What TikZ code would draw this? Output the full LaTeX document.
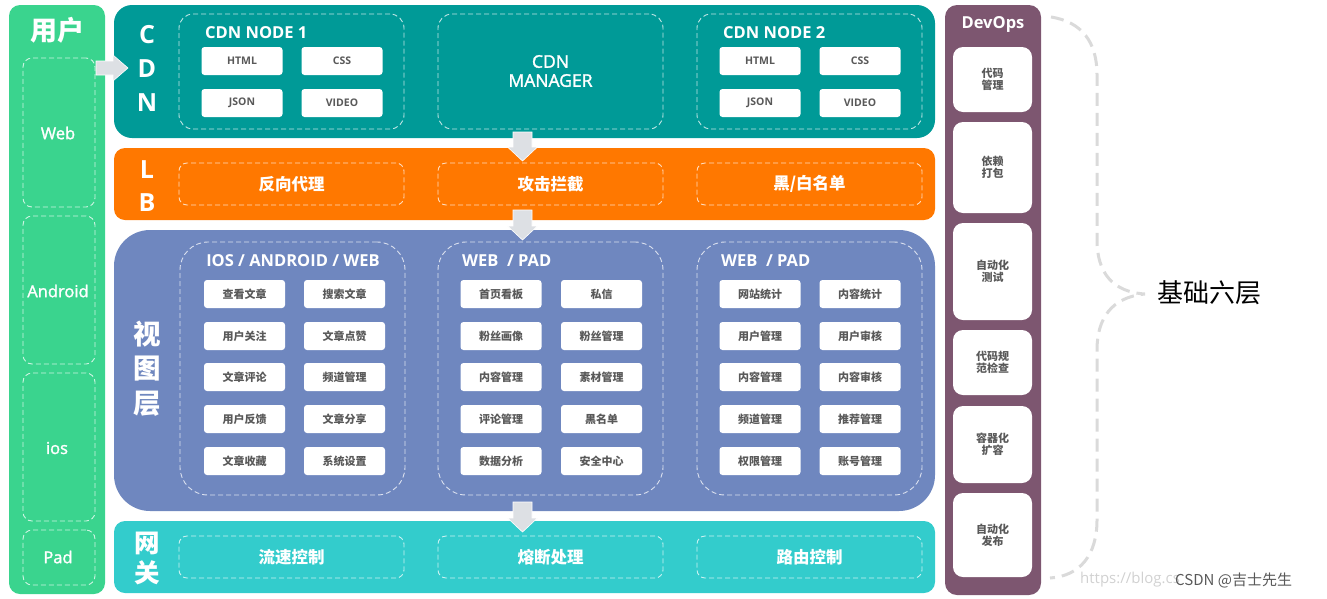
\documentclass[tikz,border=0pt]{standalone}
\usepackage{fontspec}
\setmainfont{Open Sans}
\newfontfamily\cjk{Noto Sans CJK SC}
\newfontfamily\lat{Open Sans}
\newfontfamily\latm{Open Sans}[FakeBold=1.6]
\definecolor{cUser}{HTML}{3AD48E}
\definecolor{cCdn}{HTML}{009A97}
\definecolor{cLb}{HTML}{FF7800}
\definecolor{cView}{HTML}{6F87BF}
\definecolor{cGw}{HTML}{33CCCC}
\definecolor{cDev}{HTML}{7D5670}
\definecolor{cArrow}{HTML}{DDE0E4}
\definecolor{cItem}{HTML}{595959}
\definecolor{cBrace}{HTML}{DADADA}
\tikzset{
  panel/.style={inner sep=0pt, draw=none},
  dbox/.style={draw=white, draw opacity=0.75, dash pattern=on 5pt off 3pt, line width=0.9pt, inner sep=0pt, fill=none},
  item/.style={fill=white, rounded corners=3pt, inner sep=0pt, minimum width=81pt, minimum height=28pt, text=cItem, font=\cjk\bfseries\fontsize{11}{13}\selectfont},
  litem/.style={item, font=\lat\bfseries\fontsize{10.5}{12}\selectfont},
  devbox/.style={fill=white, rounded corners=10pt, inner sep=0pt, minimum width=79pt, text=cItem, align=center, font=\cjk\bfseries\fontsize{11}{12}\selectfont},
  vlet/.style={text=white, font=\lat\bfseries\fontsize{25}{25}\selectfont, inner sep=0pt},
  vcjk/.style={text=white, font=\cjk\bfseries\fontsize{27.5}{28}\selectfont, inner sep=0pt},
  wlabel/.style={text=white, font=\cjk\bfseries\fontsize{16.5}{18}\selectfont, inner sep=0pt},
  gtitle/.style={text=white, font=\lat\bfseries\fontsize{16.5}{18}\selectfont, inner sep=0pt},
  ulabel/.style={text=white, font=\latm\fontsize{16.5}{18}\selectfont, inner sep=0pt},
  barrow/.style={fill=cArrow, draw=white, line width=0.6pt, line join=miter},
}
\begin{document}
\begin{tikzpicture}[x=1pt,y=-1pt]
\useasboundingbox (0,0) rectangle (1327,598);

% ---------------- user column ----------------
\node[panel, fill=cUser, minimum width=96pt, minimum height=589pt, rounded corners=11pt] (user) at (57,299.5) {};
\node[text=white, font=\cjk\bfseries\fontsize{27}{27}\selectfont, inner sep=0pt] (usertitle) at (57,30) {用户};
\node[dbox, rounded corners=9pt, minimum width=72pt, minimum height=149pt] (web) at (59,132.5) {};
\node[dbox, rounded corners=9pt, minimum width=72pt, minimum height=148pt] (android) at (59,290) {};
\node[dbox, rounded corners=9pt, minimum width=72pt, minimum height=148pt] (ios) at (59,447) {};
\node[dbox, rounded corners=9pt, minimum width=72pt, minimum height=55pt] (pad) at (59,557.5) {};
\node[ulabel] (webt) at (58,133) {Web};
\node[ulabel] (andt) at (58,291) {Android};
\node[ulabel] (iost) at (57,448) {ios};
\node[ulabel] (padt) at (58,557) {Pad};

% ---------------- CDN ----------------
\node[panel, fill=cCdn, minimum width=821pt, minimum height=133pt, rounded corners=18pt] (cdn) at (524.5,71.5) {};
\node[vlet] (cC) at (147,35) {C};
\node[vlet] (cD) at (147,69) {D};
\node[vlet] (cN) at (147,103) {N};
\node[dbox, rounded corners=14pt, minimum width=225pt, minimum height=115pt] (node1) at (291.5,71.5) {};
\node[gtitle, anchor=west] (node1t) at (205,33) {CDN NODE 1};
\node[litem] (n1a) at (242,61) {HTML};
\node[litem] (n1b) at (342,61) {CSS};
\node[litem] (n1c) at (242,103) {JSON};
\node[litem] (n1d) at (342,103) {VIDEO};
\node[dbox, rounded corners=14pt, minimum width=225pt, minimum height=115pt] (mgr) at (550.5,71.5) {};
\node[text=white, font=\latm\fontsize{17.5}{19}\selectfont, align=center, inner sep=0pt] (mgrt) at (550.5,71) {CDN\\MANAGER};
\node[dbox, rounded corners=14pt, minimum width=225pt, minimum height=115pt] (node2) at (809.5,71.5) {};
\node[gtitle, anchor=west] (node2t) at (723,33) {CDN NODE 2};
\node[litem] (n2a) at (760,61) {HTML};
\node[litem] (n2b) at (860,61) {CSS};
\node[litem] (n2c) at (760,103) {JSON};
\node[litem] (n2d) at (860,103) {VIDEO};

% ---------------- LB ----------------
\node[panel, fill=cLb, minimum width=821pt, minimum height=72pt, rounded corners=11pt] (lb) at (524.5,184) {};
\node[vlet] (lL) at (147,170) {L};
\node[vlet] (lB) at (147,203) {B};
\node[dbox, rounded corners=8pt, minimum width=225pt, minimum height=42pt] (lb1) at (291.5,184) {};
\node[dbox, rounded corners=8pt, minimum width=225pt, minimum height=42pt] (lb2) at (550.5,184) {};
\node[dbox, rounded corners=8pt, minimum width=225pt, minimum height=42pt] (lb3) at (809.5,184) {};
\node[wlabel] at (lb1) {反向代理};
\node[wlabel] at (lb2) {攻击拦截};
\node[wlabel] at (lb3) {黑/白名单};

% ---------------- View layer ----------------
\node[panel, fill=cView, minimum width=821pt, minimum height=281pt, rounded corners=36pt] (view) at (524.5,370.5) {};
\node[vcjk] (v1) at (147,334) {视};
\node[vcjk] (v2) at (147,369) {图};
\node[vcjk] (v3) at (147,404) {层};
\node[dbox, rounded corners=28pt, minimum width=225pt, minimum height=253pt] (g1) at (292.5,368.5) {};
\node[dbox, rounded corners=28pt, minimum width=225pt, minimum height=253pt] (g2) at (550.5,368.5) {};
\node[dbox, rounded corners=28pt, minimum width=225pt, minimum height=253pt] (g3) at (809.5,368.5) {};
\node[gtitle] (g1t) at (293,261) {IOS / ANDROID / WEB};
\node[gtitle, anchor=west] (g2t) at (462,261) {WEB~~/ PAD};
\node[gtitle, anchor=west] (g3t) at (721,261) {WEB~~/ PAD};
% group 1
\node[item] (a11) at (244.5,294) {查看文章};
\node[item] (a12) at (344.5,294) {搜索文章};
\node[item] (a21) at (244.5,336) {用户关注};
\node[item] (a22) at (344.5,336) {文章点赞};
\node[item] (a31) at (244.5,377) {文章评论};
\node[item] (a32) at (344.5,377) {频道管理};
\node[item] (a41) at (244.5,419) {用户反馈};
\node[item] (a42) at (344.5,419) {文章分享};
\node[item] (a51) at (244.5,461) {文章收藏};
\node[item] (a52) at (344.5,461) {系统设置};
% group 2
\node[item] (b11) at (501,294) {首页看板};
\node[item] (b12) at (601.5,294) {私信};
\node[item] (b21) at (501,336) {粉丝画像};
\node[item] (b22) at (601.5,336) {粉丝管理};
\node[item] (b31) at (501,377) {内容管理};
\node[item] (b32) at (601.5,377) {素材管理};
\node[item] (b41) at (501,419) {评论管理};
\node[item] (b42) at (601.5,419) {黑名单};
\node[item] (b51) at (501,461) {数据分析};
\node[item] (b52) at (601.5,461) {安全中心};
% group 3
\node[item] (c11) at (760,294) {网站统计};
\node[item] (c12) at (860,294) {内容统计};
\node[item] (c21) at (760,336) {用户管理};
\node[item] (c22) at (860,336) {用户审核};
\node[item] (c31) at (760,377) {内容管理};
\node[item] (c32) at (860,377) {内容审核};
\node[item] (c41) at (760,419) {频道管理};
\node[item] (c42) at (860,419) {推荐管理};
\node[item] (c51) at (760,461) {权限管理};
\node[item] (c52) at (860,461) {账号管理};

% ---------------- Gateway ----------------
\node[panel, fill=cGw, minimum width=821pt, minimum height=72pt, rounded corners=11pt] (gw) at (524.5,557) {};
\node[vcjk, font=\cjk\bfseries\fontsize{25.5}{26}\selectfont] (w1) at (147,543) {网};
\node[vcjk, font=\cjk\bfseries\fontsize{25.5}{26}\selectfont] (w2) at (147,573) {关};
\node[dbox, rounded corners=8pt, minimum width=225pt, minimum height=42pt] (gw1) at (291.5,557) {};
\node[dbox, rounded corners=8pt, minimum width=225pt, minimum height=42pt] (gw2) at (550.5,557) {};
\node[dbox, rounded corners=8pt, minimum width=225pt, minimum height=42pt] (gw3) at (809.5,557) {};
\node[wlabel] at (gw1) {流速控制};
\node[wlabel] at (gw2) {熔断处理};
\node[wlabel] at (gw3) {路由控制};

% ---------------- arrows ----------------
\draw[barrow] (96,61) -- (113,61) -- (113,55) -- (128,68) -- (113,81) -- (113,75) -- (96,75) -- cycle;
\draw[barrow] (513,132) -- (532,132) -- (532,147) -- (537.5,147) -- (522.5,161) -- (507.5,147) -- (513,147) -- cycle;
\draw[barrow] (513,210) -- (532,210) -- (532,226) -- (537.5,226) -- (522.5,240) -- (507.5,226) -- (513,226) -- cycle;
\draw[barrow] (513,502) -- (532,502) -- (532,518) -- (537.5,518) -- (522.5,532) -- (507.5,518) -- (513,518) -- cycle;

% ---------------- DevOps ----------------
\node[panel, fill=cDev, minimum width=96pt, minimum height=590pt, rounded corners=12pt] (dev) at (993,300) {};
\node[text=white, font=\lat\bfseries\fontsize{16.5}{18}\selectfont, inner sep=0pt] (devt) at (993,24) {DevOps};
\node[devbox, minimum height=65pt] (d1) at (992.5,79.5) {代码\\管理};
\node[devbox, minimum height=91pt] (d2) at (992.5,167.5) {依赖\\打包};
\node[devbox, minimum height=97pt] (d3) at (992.5,271.5) {自动化\\测试};
\node[devbox, minimum height=65pt] (d4) at (992.5,362.5) {代码规\\范检查};
\node[devbox, minimum height=77pt] (d5) at (992.5,444.5) {容器化\\扩容};
\node[devbox, minimum height=84pt] (d6) at (992.5,535) {自动化\\发布};

% ---------------- brace & label ----------------
\coordinate (bTop) at (1051,17);
\coordinate (bTip) at (1145,294);
\coordinate (bBot) at (1050,578);
\draw[cBrace, line width=3pt, dash pattern=on 13pt off 7pt]
  (bTop) .. controls (1082,22) and (1097,42) .. (1097,75) -- (1097,240)
  .. controls (1097,272) and (1112,292) .. (bTip)
  .. controls (1112,297) and (1097,318) .. (1097,350) -- (1097,520)
  .. controls (1097,555) and (1080,576) .. (bBot);
\node[anchor=west, text=black, font=\cjk\fontsize{26}{26}\selectfont, inner sep=0pt] (six) at (1157,293) {基础六层};

% watermark
\node[anchor=west, text=black!18, font=\lat\fontsize{15}{16}\selectfont, inner sep=0pt] (url) at (1080,580) {https://blog.cs};
\node[anchor=west, text=black!65, font=\cjk\fontsize{15}{16}\selectfont, inner sep=0pt] (csdn) at (1175,580) {CSDN @吉士先生};
\end{tikzpicture}
\end{document}
